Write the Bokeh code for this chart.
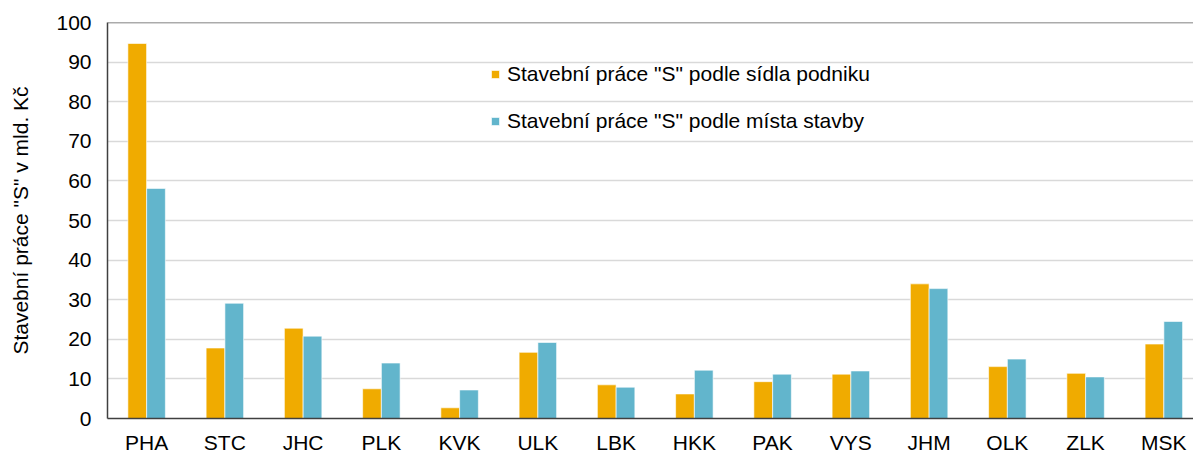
from bokeh.plotting import figure
from bokeh.models import Range1d, FixedTicker, Legend, LegendItem, ColumnDataSource, Span
from bokeh.transform import dodge
from bokeh.embed import file_html
from bokeh.resources import INLINE

categories = ["PHA", "STC", "JHC", "PLK", "KVK", "ULK", "LBK", "HKK", "PAK", "VYS", "JHM", "OLK", "ZLK", "MSK"]
sidlo = [94.7, 17.8, 22.8, 7.5, 2.7, 16.7, 8.5, 6.2, 9.3, 11.2, 34.0, 13.1, 11.4, 18.8]
misto = [58.1, 29.1, 20.8, 14.0, 7.2, 19.2, 7.9, 12.2, 11.2, 12.0, 32.8, 15.0, 10.5, 24.5]
y_ticks = [0, 10, 20, 30, 40, 50, 60, 70, 80, 90, 100]
series_names = ['Stavební práce "S" podle sídla podniku', 'Stavební práce "S" podle místa stavby']
y_title = 'Stavební práce "S" v mld. Kč'

FONT = "Liberation Sans"
FS = "21px"
ORANGE = "#F0AB00"
BLUE = "#62B5CC"

pos = list(range(len(categories)))
src = ColumnDataSource(dict(x=pos, sidlo=sidlo, misto=misto))

p = figure(width=1193, height=456, output_backend="svg", toolbar_location=None,
           x_range=Range1d(-0.5, 13.379), y_range=Range1d(0, 100),
           min_border_left=107, min_border_right=0, min_border_top=22, min_border_bottom=35)
p.background_fill_color = "white"
p.border_fill_color = "white"
p.outline_line_color = None

r1 = p.vbar(x=dodge("x", -0.12), top="sidlo", width=0.239, source=src,
            fill_color=ORANGE, line_color="white", line_width=0.6)
r2 = p.vbar(x=dodge("x", 0.12), top="misto", width=0.239, source=src,
            fill_color=BLUE, line_color="white", line_width=0.6)

p.xgrid.visible = False
p.ygrid.grid_line_color = "#D9D9D9"
p.ygrid.grid_line_width = 1.5
p.ygrid.ticker = FixedTicker(ticks=y_ticks)

top_line = Span(location=y_ticks[-1], dimension="width", line_color="#595959", line_width=1.5)
p.add_layout(top_line)

p.yaxis.ticker = FixedTicker(ticks=y_ticks)
p.xaxis.ticker = FixedTicker(ticks=pos)
p.xaxis.major_label_overrides = {i: c for i, c in enumerate(categories)}

for ax in (p.xaxis[0], p.yaxis[0]):
    ax.axis_line_color = "#404040"
    ax.axis_line_width = 1.5
    ax.major_tick_line_color = None
    ax.minor_tick_line_color = None
    ax.major_tick_out = 0
    ax.major_tick_in = 0
    ax.major_label_text_font = FONT
    ax.major_label_text_font_size = FS
    ax.major_label_text_color = "#000000"

p.xaxis.major_label_standoff = 12
p.yaxis.major_label_standoff = 16
p.yaxis.axis_label = y_title
p.yaxis.axis_label_text_font = FONT
p.yaxis.axis_label_text_font_size = FS
p.yaxis.axis_label_text_font_style = "normal"
p.yaxis.axis_label_text_color = "#000000"
p.yaxis.axis_label_standoff = 21

legend = Legend(items=[LegendItem(label=series_names[0], renderers=[r1]),
                       LegendItem(label=series_names[1], renderers=[r2])],
                location=(383, 285))
legend.background_fill_alpha = 0
legend.border_line_alpha = 0
legend.padding = 0
legend.margin = 0
legend.glyph_width = 10
legend.glyph_height = 10
legend.label_standoff = 7
legend.spacing = 23
legend.label_text_font = FONT
legend.label_text_font_size = FS
legend.label_text_color = "#000000"
p.add_layout(legend, "center")

open("out.html", "w").write(file_html(p, INLINE))
